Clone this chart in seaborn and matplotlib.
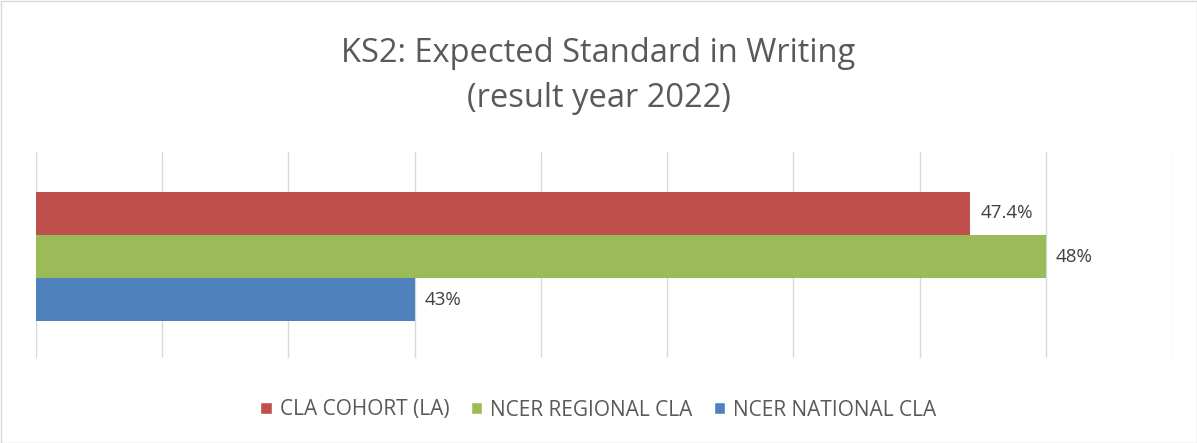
import matplotlib
matplotlib.use('Agg')
import matplotlib.pyplot as plt
import seaborn as sns
import pandas as pd
from matplotlib.patches import Patch, Rectangle

sns.set_style("white")
plt.rcParams['font.family'] = ['Open Sans', 'DejaVu Sans']

# Chart data
series = ['CLA COHORT (LA)', 'NCER REGIONAL CLA', 'NCER NATIONAL CLA']
values = [47.4, 48.0, 43.0]
labels = ['47.4%', '48%', '43%']
colors = ['#C0504D', '#9BBB59', '#4F81BD']

df = pd.DataFrame({'series': series, 'value': values})

fig = plt.figure(figsize=(11.97, 4.43), dpi=100)
ax = fig.add_axes([36 / 1197, 1 - 358 / 443, (1172 - 36) / 1197, (358 - 152) / 443])

sns.barplot(data=df, x='value', y='series', hue='series', palette=colors,
            orient='h', width=1.0, dodge=False, legend=False, saturation=1,
            linewidth=0, ax=ax)

ax.set_xlim(40, 49)
ax.set_xticks(range(40, 50))
ax.set_ylim(3.36, -1.43)
ax.grid(axis='x', color='#d9d9d9', linewidth=1)
ax.set_axisbelow(True)
ax.tick_params(left=False, bottom=False, labelleft=False, labelbottom=False)
ax.set_xlabel('')
ax.set_ylabel('')
for s in ax.spines.values():
    s.set_visible(False)

for i, (v, lab) in enumerate(zip(values, labels)):
    ax.text(v + 0.08, i, lab, va='center', ha='left', fontsize=13.5, color='#404040')

fig.text(0.5, 1 - 76 / 443, 'KS2: Expected Standard in Writing\n(result year 2022)',
         ha='center', va='center', fontsize=23.5, color='#595959', linespacing=1.45)

handles = [Patch(facecolor=c, label=s) for c, s in zip(colors, series)]
fig.legend(handles=handles, loc='center', bbox_to_anchor=(0.5, 1 - 410 / 443),
           ncol=3, frameon=False, fontsize=15, handlelength=0.55, handleheight=0.55,
           columnspacing=1.0, handletextpad=0.4, labelcolor='#595959')

fig.patches.append(Rectangle((0.5 / 1197, 0.5 / 443), 1 - 1 / 1197, 1 - 1 / 443,
                             transform=fig.transFigure, fill=False,
                             edgecolor='#d9d9d9', linewidth=1))

fig.savefig('out.png', dpi=100)
plt.close(fig)
